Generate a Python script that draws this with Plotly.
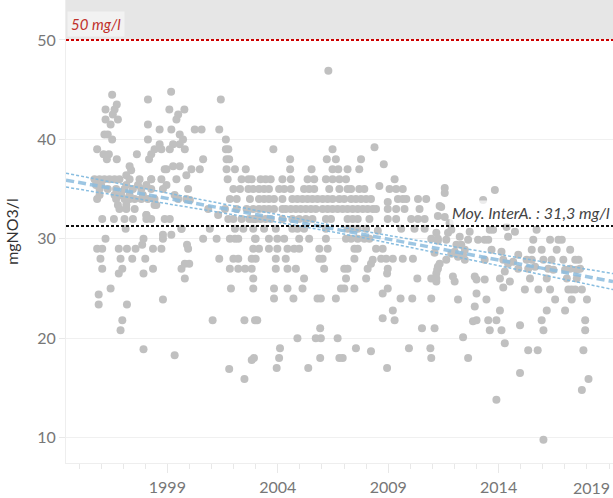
import plotly.graph_objects as go

# ---- data ----
years_a = [1996.50,1996.71,1996.20,1996.61,1996.53,1996.76,1996.20,1996.43,1996.15,1996.30,1996.50,1995.82,1996.11,1996.35,1996.26,1996.71,1997.62,1997.29,1997.36,1997.14,
           1995.70,1995.93,1996.15,1996.38,1996.61,1996.83,1997.29,1997.74,1998.27,
           1995.77,1996.00,1997.14,1997.67,1998.05,
           1995.93,1996.30,1996.68,1997.06,1997.44,1997.82,1998.27,
           1995.93,1996.61,1996.91,1997.29,1997.89,
           1995.82,1996.68,1997.06,1997.29,1997.52,1997.82,1998.12,1998.42,
           1996.76,1997.14,1998.42,1996.83,1997.14,1997.52,1998.05,
           1996.05,1996.58,1997.06,1997.44,1998.05,1998.27,1998.88,1999.11,
           1997.11,1999.64,1996.20,1997.86,1999.89,
           1995.82,1996.05,1996.80,1997.17,1997.56,1998.35,1998.73,
           1995.97,1996.88,1997.41,1998.00,
           1996.05,1996.96,1998.35,1999.64,1996.80,1997.92,1999.79,1999.99,1999.79,
           1996.43,1995.89,1995.89,1997.17,1998.80,1996.96,2001.05,1996.88,1997.92,1999.33,
           1997.92,1998.80,1998.80,1999.18,
           1999.17,1998.12,2001.42,1999.09,1999.77,1999.49,1999.41,1998.12,
           1998.65,1999.18,2000.24,2000.55,2001.35,1999.56,1999.71,1998.12,2001.65,
           1998.65,1999.26,1999.56,1998.42,1998.73,1999.11,1999.79,2001.65,2001.76,
           1998.27,1998.17,2000.62,2001.68,2001.80,1999.56,1999.26,
           1998.96,1998.88,2000.09,2000.47,2001.68,2002.06,2002.55,1999.86,
           1999.41,1998.73,1998.27,2001.73,2002.36,2002.67,2002.82,1998.96,
           1998.80,1999.94,2001.99,2002.29,2002.67,2002.89,1999.33,
           1999.49,1999.86,2001.83,2002.14,2002.74,1998.50,2000.02,
           2000.85,2001.61,2002.14,2002.59,2002.89,1998.05,2001.30,
           2001.76,2001.99,2002.36,2002.71,2002.89,
           2000.92,1999.64,2002.06,2002.44,2002.89,
           2000.62,2001.23,2001.83,2002.06,2002.21,2002.97,
           1999.94,2002.89,2001.35,2001.99,2002.21,2002.82,
           2001.83,2002.21,2002.52,2002.82,2002.89,2001.88,2002.89,
           2002.49,2002.97,2002.82,2001.80,2002.49]
vals_a = [44.5,43.5,43.0,43.0,42.5,42.0,42.0,41.5,40.5,40.5,40.0,39.0,38.5,38.5,38.0,38.0,38.5,37.3,36.9,36.4,
          36,36,36,36,36,36,36,36,36,
          35.4,35.4,35.4,35.4,35.4,
          35,35,35,35,35,35,35,
          34.4,34.4,34.4,34.4,34.4,
          34,34,34,34,34,34,34,34,
          33.4,33.4,33.4,33,33,33,32.4,
          32,32,32,32,32,32,32,32,
          31,31,30,29.4,29.4,
          29,29,29,29,29,29,29,
          28,28,28,28,
          27,27,27,27,26.5,26.5,27.5,27.5,26,
          25,24.4,23.4,23.4,23.9,21.8,21.8,20.8,18.9,18.3,
          30,30,30.4,30.4,
          44.8,44.0,44.0,43.0,43.0,42.5,42.0,41.5,
          41,41,41,41,41,40.5,40,40,40,
          39.5,39.5,39.5,39,39,39,39,39,39,
          38.5,38,38,38,38,37.3,37.3,
          37,37,37,37,37,37,37,36.4,
          36,36,36,36,36,36,36,35.4,
          35,35,35,35,35,35,34.4,
          34,34,34,34,34,33.4,33.9,
          33,33,33,33,33,32.4,32.4,
          32,32,32,32,32,
          31,31,31,31,31,
          30,30,30,30,30,30,
          29,29,28,28,28,28,
          27,27,27,27,26,25,25,
          21.8,21.8,17.8,16.9,15.9]

years_b = [2006.29,2003.80,2006.48,2008.38,2004.56,2006.22,2006.63,2007.77,2008.80,
           2004.56,2005.53,2006.48,2006.74,2007.16,2007.69,
           2003.22,2003.45,2003.68,2004.21,2004.59,2005.35,2005.65,2006.18,2006.48,2006.79,2007.09,2009.29,
           2003.15,2003.38,2003.60,2004.06,2004.29,2004.59,2005.19,2005.42,2005.65,2006.33,2006.79,2007.16,2007.32,2007.69,2007.92,2008.60,2009.06,2009.36,2009.66,
           2003.15,2003.38,2003.60,2003.83,2004.21,2004.66,2004.89,2005.12,2005.35,2005.57,2005.80,2006.03,2006.26,2006.48,2006.79,2007.01,2007.32,2007.54,2007.77,2008.00,2008.22,2008.98,2009.44,2009.66,2009.82,2010.35,2010.72,
           2003.15,2003.38,2003.60,2003.83,2004.21,2004.36,2004.59,2004.82,2005.04,2005.27,2005.50,2005.72,2006.03,2006.26,2006.48,2006.71,2006.94,2007.16,2007.39,2007.62,2007.85,2008.07,2008.30,2008.45,2008.98,2009.36,2009.74,2010.42,2011.33,
           2003.00,2003.22,2003.45,2003.68,2004.21,2004.66,2004.97,2005.27,2005.57,2006.18,2006.41,2007.16,2007.39,2007.62,2008.15,2008.98,2009.36,2010.04,2010.35,2010.65,2011.25,
           2003.38,2003.91,2004.66,2004.89,2005.19,2006.18,2007.16,2007.39,2007.62,2008.00,2008.53,2009.59,2010.19,2010.65,2011.18,
           2003.00,2003.60,2003.98,2004.29,2004.97,2005.42,2006.18,2007.09,2007.32,2007.62,2007.92,2008.15,2010.95,2011.25,
           2003.15,2003.60,2003.98,2004.44,2004.74,2004.97,2005.88,2006.26,2007.47,2007.62,2008.45,2008.75,2011.10,
           2003.00,2003.91,2004.36,2005.88,2006.03,2007.47,2008.68,2008.91,2009.21,2009.66,2010.12,2008.30,2008.22,
           2003.91,2004.44,2004.82,2006.10,2007.01,2007.16,2008.07,2008.98,2011.25,2011.22,2008.95,
           2005.19,2007.09,2008.00,2010.32,2010.95,2011.18,
           2003.83,2004.44,2005.12,2006.86,2007.01,2007.47,2008.98,2008.75,
           2003.83,2004.71,2005.80,2005.95,2006.63,2009.56,2010.09,2010.95,
           2009.21,2008.75,2009.29,2003.07,2005.92,2010.53,2011.10,
           2004.89,2005.72,2005.95,2006.71,2004.10,2007.54,2009.94,2010.91,2008.22,
           2002.92,2004.06,2005.92,2006.79,2006.94,2010.95,2003.95,2005.38,2008.95]
vals_b = [46.9,39.0,39.0,39.2,38,38,38,38,37.5,
          37,37,37,37,37,37,
          36,36,36,36,36,36,36,36,36,36,36,36,
          35,35,35,35,35,35,35,35,35,35,35,35,35,35,35,35.3,35,35,35,
          34,34,34,34,34,34,34,34,34,34,34,34,34,34,34,34,34,34,34,34,34,33.7,34,34,34,34,34,
          33,33,33,33,33,33,33,33,33,33,33,33,33,33,33,33,33,33,33,33,33,33,33,33,33,33,33,33,33.3,
          32,32,32,32,32,32,32,32,32,32,32,32,32,32,32,32,32,32,32,32,32.3,
          31,31,31,31,31,31,31,31,31,31,30.8,31,31,31,30.6,
          30,30,30,30,30,30,30,30,30,30,30,30,30,29.8,
          29,29,29,29,29,29,29,29,29,29,29,29,28.6,
          28,28,28,28,28,28,28,28,28,28,28,27.9,27.5,
          27,27,27,27,27,27,27,27,27.2,26.9,26.5,
          26,26,26,26,26,26,
          25,25,25,25,25,25,25,24.5,
          24,24,24,24,24,24,24,24,
          22.8,22.0,21.8,21.8,21,21,21,
          20,20,20,20,19,19,19,19,18.7,
          18,18,18,18,18,18,17,17,17]

years_c = [2011.56,2011.56,2013.83,2013.30,2011.40,2011.56,2011.78,2011.86,2011.71,2011.63,2011.25,
           2012.69,2012.62,2013.07,2013.37,2013.53,2013.60,2013.75,2014.36,2014.74,2014.43,
           2015.57,2015.72,2016.33,2016.71,2016.86,2015.50,2015.95,2016.63,2017.24,
           2012.24,2012.09,2012.31,2012.47,2012.39,2012.16,2012.47,2011.86,2011.63,2011.33,2011.25,2011.18,2011.10,2011.18,2012.01,
           2013.68,2014.13,2014.21,2014.66,2014.89,2015.27,2015.50,2016.03,2016.40,2016.93,2017.47,2017.62,2013.37,
           2014.43,2014.89,2015.34,2015.65,2016.25,2016.48,2017.01,2017.24,2017.54,2017.69,
           2011.93,2012.01,2012.92,2013.00,2013.37,2014.06,2014.28,2014.51,2014.21,2015.42,2016.18,2017.09,2017.54,
           2015.19,2015.80,2016.33,2017.16,2017.31,2017.47,2017.77,
           2012.16,2013.00,2013.45,2016.56,2017.31,2018.00,
           2012.92,2014.06,2016.18,2017.01,
           2012.84,2013.00,2013.53,2013.90,2015.95,2017.92,2014.97,
           2013.60,2014.13,2016.03,2017.92,2012.39,2014.28,
           2012.62,2015.34,2015.77,2017.84,2014.97,2018.07,2017.77,2013.90,2016.03]
vals_c = [35.1,34.6,34.9,33.9,33.2,32.2,31.6,30.9,30.6,29.9,30.0,
          30.7,29.9,29.9,29.9,29.9,30.9,30.9,31.2,30.7,30.2,
          29.9,30.9,29.9,29.9,29.9,28.9,28.9,28.9,28.9,
          30.2,29.4,29.4,28.9,28.4,28.2,27.9,28.5,27.9,27.5,27.0,26.5,26.0,25.7,28.7,
          28.9,28.7,27.9,27.7,28.4,27.9,27.9,27.9,27.9,27.9,27.9,27.9,27.9,
          27.5,27.0,27.0,27.2,27.0,26.9,26.9,27.0,26.9,27.0,
          26.2,25.7,26.2,25.9,25.9,26.0,26.7,25.7,25.1,26.0,26.0,26.0,26.0,
          24.9,24.9,24.9,24.9,24.9,24.9,24.9,
          23.9,24.5,23.9,23.9,23.9,23.9,
          23.2,22.8,22.8,22.8,
          21.7,21.8,21.8,21.8,21.8,21.8,21.3,
          20.8,20.8,20.8,20.8,20.1,19.5,
          18.0,18.8,18.8,18.8,16.5,15.9,14.8,13.8,9.8]

# trend line and confidence band
trend_years = [1994.41, 2002.77, 2006.90, 2010.95, 2019.18]
trend_mid = [35.9, 32.55, 30.85, 29.15, 25.7]
trend_up = [36.6, 32.97, 31.18, 29.6, 26.5]
trend_lo = [35.2, 32.13, 30.52, 28.7, 24.9]

limit_value = 50
mean_value = 31.3
x_ticks = [1999, 2004, 2009, 2014, 2019]
x_ticklabels = ["1999", "2004", "2009", "2014", ""]
last_year_label = "2019"
y_ticks = [10, 20, 30, 40, 50]

FONT = "Lato"
fig = go.Figure()

fig.add_trace(go.Scatter(
    x=years_a + years_b + years_c, y=vals_a + vals_b + vals_c,
    mode="markers", marker=dict(size=8, color="#c0c0c0", line=dict(width=0)),
    hoverinfo="skip", showlegend=False))

fig.add_trace(go.Scatter(x=trend_years, y=trend_up, mode="lines", line_shape="spline",
                         line=dict(color="rgba(130,185,222,0.95)", width=1.5, dash="3px,2px"),
                         showlegend=False, hoverinfo="skip"))
fig.add_trace(go.Scatter(x=trend_years, y=trend_lo, mode="lines", line_shape="spline",
                         line=dict(color="rgba(130,185,222,0.95)", width=1.5, dash="3px,2px"),
                         showlegend=False, hoverinfo="skip"))
fig.add_trace(go.Scatter(x=trend_years, y=trend_mid, mode="lines", line_shape="spline",
                         line=dict(color="rgba(140,188,222,0.85)", width=3.5, dash="8px,4px"),
                         showlegend=False, hoverinfo="skip"))

y_range = [7.45, 54.02]
x_range = [1994.41, 2019.18]

# grey band above limit
fig.add_shape(type="rect", xref="paper", yref="y", x0=0, x1=1, y0=limit_value, y1=y_range[1],
              fillcolor="#e6e6e6", line=dict(width=0), layer="below")
# limit line
fig.add_shape(type="line", xref="paper", yref="y", x0=0, x1=1, y0=limit_value, y1=limit_value,
              line=dict(color="#cc0000", width=2, dash="3px,2px"))
# mean line
fig.add_shape(type="line", xref="paper", yref="y", x0=0, x1=1, y0=mean_value, y1=mean_value,
              line=dict(color="#111111", width=2, dash="3px,2px"))

fig.add_annotation(xref="paper", yref="y", x=0.001, y=limit_value, xanchor="left", yanchor="bottom",
                   yshift=3, text="<i>50 mg/l</i>", showarrow=False,
                   font=dict(family=FONT, size=15, color="#c0302b"),
                   bgcolor="#f2f2f2", borderpad=3)
fig.add_annotation(xref="paper", yref="y", x=1, y=mean_value, xanchor="right", yanchor="bottom",
                   yshift=1, text="<i>Moy. InterA. : 31,3 mg/l</i>", showarrow=False,
                   font=dict(family=FONT, size=16, color="#444444"),
                   bgcolor="rgba(255,255,255,0.7)", borderpad=2)
# last year label pulled inside the figure (as in the reference)
fig.add_annotation(xref="x", yref="paper", x=x_ticks[-1], y=0, xanchor="right", yanchor="top",
                   xshift=2, yshift=-14, text=last_year_label, showarrow=False, borderpad=0,
                   font=dict(family=FONT, size=16, color="#777777"))

fig.update_layout(
    width=613, height=498,
    margin=dict(l=66, r=0, t=0, b=35, autoexpand=False),
    plot_bgcolor="white", paper_bgcolor="white",
    font=dict(family=FONT, size=16, color="#777777"),
    xaxis=dict(range=x_range, tickvals=x_ticks, ticktext=x_ticklabels,
               automargin=False, ticklabelstandoff=1,
               showgrid=False, zeroline=False, showline=True, linecolor="#eeeeee", linewidth=1,
               ticks="outside", ticklen=9, tickcolor="#e8e8e8",
               minor=dict(tickvals=list(range(1995, 2020)), ticks="outside", ticklen=5, tickcolor="#e8e8e8"),
               tickfont=dict(family=FONT, size=16, color="#777777")),
    yaxis=dict(range=y_range, tickvals=y_ticks, showgrid=True, gridcolor="#f0f0f0", gridwidth=1,
               automargin=False,
               zeroline=False, showline=True, linecolor="#eeeeee", linewidth=1,
               ticks="outside", ticklen=6, tickcolor="#e8e8e8",
               tickfont=dict(family=FONT, size=16, color="#777777"),
               title=dict(text="mgNO3/l", font=dict(family=FONT, size=16, color="#333333"), standoff=14)),
)

fig.write_html("out.html", config={"displayModeBar": False},
               post_script="document.body.style.margin='0';document.body.style.overflow='hidden';")
